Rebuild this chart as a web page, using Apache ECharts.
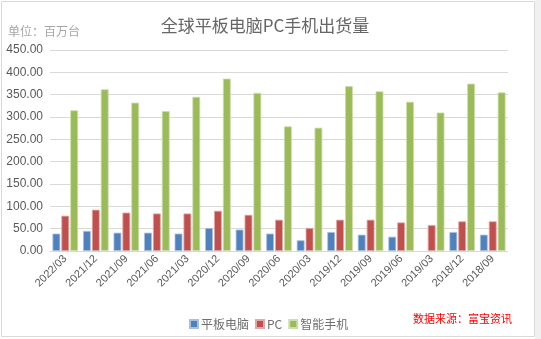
<!DOCTYPE html>
<html>
<head>
<meta charset="utf-8">
<script src="https://cdn.jsdelivr.net/npm/echarts@6/dist/echarts.min.js"></script>
<style>
  html, body { margin: 0; padding: 0; background: #ffffff; }
  #chart { width: 541px; height: 339px; }
</style>
</head>
<body>
<div id="chart"></div>
<script>
// Quarterly shipments, millions of units
const quarters = ['2022/03', '2021/12', '2021/09', '2021/06', '2021/03', '2020/12', '2020/09', '2020/06',
                  '2020/03', '2019/12', '2019/09', '2019/06', '2019/03', '2018/12', '2018/09'];
const tablets = [39, 45, 41, 41, 39, 51.5, 48, 39, 24, 42.5, 36.6, 32, null, 42.5, 36.6];
const pcs = [79, 92.5, 86, 84, 84, 90, 81, 70, 51.5, 70, 70, 64, 58, 66.4, 66.4];
const phones = [315, 362, 332, 313, 345, 386, 354, 279, 276, 369, 357.5, 334, 310, 374.6, 355];
const seriesNames = ['平板电脑', 'PC', '智能手机'];
const yTicks = { min: 0, max: 450, step: 50 };

const FONT = '"Liberation Sans", Arial, "Noto Sans CJK SC", sans-serif';
const CJK = '"Noto Sans CJK SC", sans-serif';

const chart = echarts.init(document.getElementById('chart'), null, { renderer: 'canvas' });

function barSeries(name, data, color, edge) {
  return {
    name: name,
    type: 'bar',
    data: data,
    barWidth: 7.8,
    barGap: '14%',
    itemStyle: { color: color, borderColor: edge, borderWidth: 0.8 },
    emphasis: { disabled: true }
  };
}

chart.setOption({
  animation: false,
  backgroundColor: '#ffffff',
  title: {
    text: '全球平板电脑PC手机出货量',
    left: 260,
    textAlign: 'center',
    top: 12,
    textStyle: { fontFamily: CJK, fontSize: 17, fontWeight: 'normal', color: '#666666' }
  },
  grid: { left: 50, right: 33, top: 50, bottom: 88 },
  legend: {
    data: seriesNames,
    left: 184,
    top: 313,
    itemWidth: 8,
    itemHeight: 8,
    itemGap: 6,
    icon: 'rect',
    textStyle: { fontFamily: CJK, fontSize: 12, color: '#6f6f6f', padding: [0, 0, 0, -2] }
  },
  xAxis: {
    type: 'category',
    data: quarters,
    axisTick: { show: false },
    axisLine: { lineStyle: { color: '#d9d9d9' } },
    axisLabel: {
      rotate: 45,
      interval: 0,
      margin: 6,
      fontFamily: FONT,
      fontSize: 11,
      color: '#595959'
    }
  },
  yAxis: {
    type: 'value',
    min: yTicks.min,
    max: yTicks.max,
    interval: yTicks.step,
    axisLine: { show: false },
    axisTick: { show: false },
    splitLine: { lineStyle: { color: '#d9d9d9' } },
    axisLabel: {
      margin: 7,
      fontFamily: FONT,
      fontSize: 12,
      color: '#595959',
      formatter: v => v.toFixed(2)
    }
  },
  graphic: [
    {
      type: 'rect',
      shape: { x: 535, y: 0, width: 6, height: 339 },
      style: { fill: '#f0f0f0' },
      silent: true
    },
    {
      type: 'rect',
      shape: { x: 1.5, y: 1.5, width: 533, height: 335 },
      style: { fill: 'none', stroke: '#d9d9d9', lineWidth: 1 },
      silent: true
    },
    {
      type: 'text',
      left: 8,
      top: 25,
      style: { text: '单位：百万台', fontFamily: CJK, fontSize: 12, fill: '#a6a6a6' }
    },
    {
      type: 'text',
      left: 413,
      top: 313,
      style: { text: '数据来源：富宝资讯', fontFamily: CJK, fontSize: 11, fill: '#ff0000' }
    }
  ],
  series: [
    barSeries(seriesNames[0], tablets, '#4f81bd', '#a9c1df'),
    barSeries(seriesNames[1], pcs, '#c0504d', '#e0a8a6'),
    barSeries(seriesNames[2], phones, '#9bbb59', '#cddcac')
  ]
});
</script>
</body>
</html>
